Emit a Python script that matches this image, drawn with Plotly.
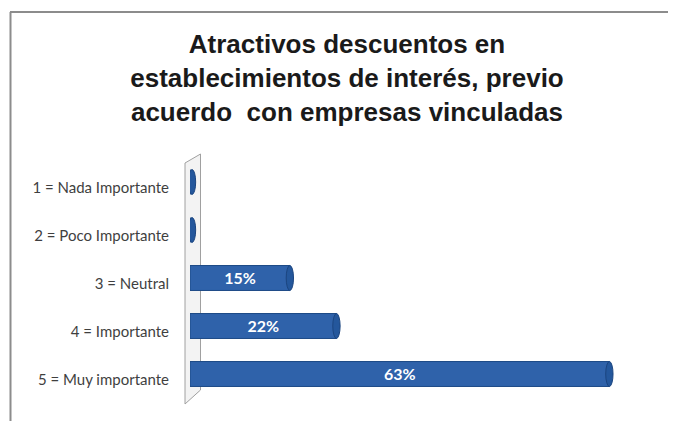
import plotly.graph_objects as go

categories = ["1 = Nada Importante", "2 = Poco Importante", "3 = Neutral",
              "4 = Importante", "5 = Muy importante"]
values = [0, 0, 15, 22, 63]
labels = ["", "", "15%", "22%", "63%"]
title_lines = ["Atractivos descuentos en",
               "establecimientos de interés, previo",
               "acuerdo  con empresas vinculadas"]

OFF = 8  # page body margin
W_FIG, H_FIG = 676 - OFF, 421 - OFF
# plot area in page pixels
L, R, T, B = 190, 636, 158, 398
PW, PH = R - L, B - T
XMAX = 67

def px(X):
    return (X - L) / PW

def py(Y):
    return (B - Y) / PH

fig = go.Figure()
fig.add_trace(go.Bar(
    y=categories, x=values, orientation="h",
    width=0.52,
    marker=dict(color="#2f62aa", line=dict(color="#1d4a86", width=1)),
    text=labels, textposition="inside", insidetextanchor="middle",
    textfont=dict(family="Lato, Open Sans, sans-serif", size=16, color="white", weight="bold"),
    hoverinfo="skip", showlegend=False,
))

shapes = []
# chart border
shapes.append(dict(type="line", xref="paper", yref="paper",
                   x0=px(10), x1=px(676), y0=py(12), y1=py(12),
                   line=dict(color="#8c8c8c", width=2)))
shapes.append(dict(type="line", xref="paper", yref="paper",
                   x0=px(10.5), x1=px(10.5), y0=py(12), y1=py(421),
                   line=dict(color="#8c8c8c", width=2)))
shapes.append(dict(type="line", xref="paper", yref="paper",
                   x0=px(674.5), x1=px(674.5), y0=py(14), y1=py(421),
                   line=dict(color="#e6e6e6", width=1)))
# 3D wall
shapes.append(dict(type="path", xref="paper", yref="paper", layer="below",
                   path=f"M {px(185)},{py(163)} L {px(200.5)},{py(154)} L {px(200.5)},{py(390)} L {px(185)},{py(404)} Z",
                   fillcolor="#f3f3f3", line=dict(color="#a0a0a0", width=1)))
# cylinder end caps
for i, v in enumerate(values):
    shift = 0.3 if v == 0 else 0
    shapes.append(dict(type="circle", xref="x", yref="y",
                       x0=v - 0.55 + shift, x1=v + 0.55 + shift,
                       y0=i - 0.26, y1=i + 0.26,
                       fillcolor="#24579c", line=dict(color="#1b4580", width=1)))

fig.update_layout(
    width=W_FIG, height=H_FIG,
    margin=dict(l=L - OFF, r=676 - R, t=T - OFF, b=421 - B, pad=0),
    paper_bgcolor="white", plot_bgcolor="white",
    title=dict(text="<br>".join(title_lines), x=(347 - OFF) / W_FIG, xanchor="center",
               xref="container", yref="container", y=1 - 45 / H_FIG, yanchor="top",
               font=dict(family="Liberation Sans, Arial, sans-serif", size=26,
                         color="#1a1a1a", weight="bold")),
    xaxis=dict(range=[0, XMAX], visible=False, showgrid=False, zeroline=False),
    yaxis=dict(categoryorder="array", categoryarray=categories, autorange="reversed",
               showgrid=False, zeroline=False, showline=False, ticks="",
               ticklabelstandoff=20, ticklabelshift=-6,
               tickfont=dict(family="Lato, Open Sans, sans-serif", size=15, color="#3f3f3f")),
    shapes=shapes,
    bargap=0.48,
)

fig.write_html("out.html")
